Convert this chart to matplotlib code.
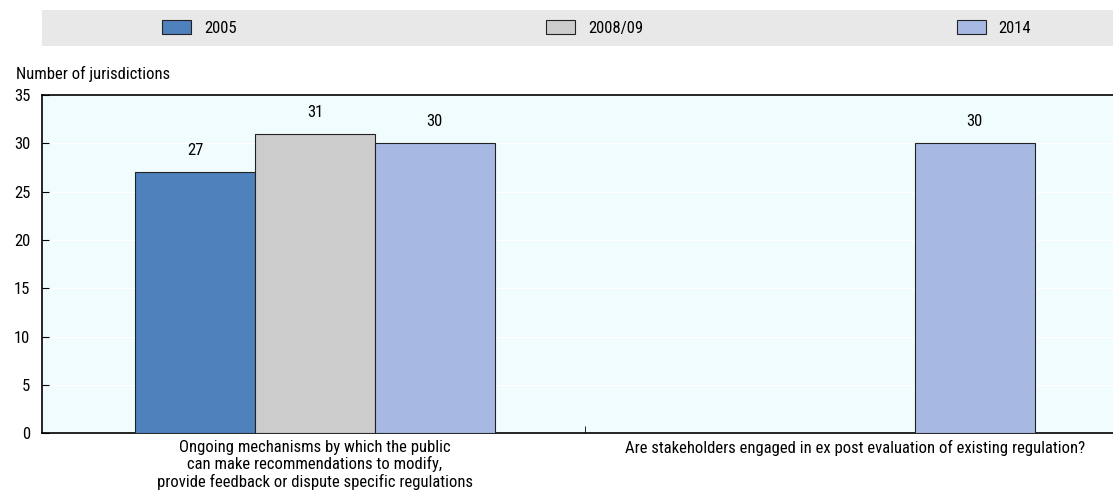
import numpy as np
import matplotlib
matplotlib.use("Agg")
import matplotlib.pyplot as plt
from matplotlib.patches import Patch
from matplotlib.legend import Legend

plt.rcParams["font.family"] = ["Roboto Condensed", "Liberation Sans", "DejaVu Sans"]
plt.rcParams["font.size"] = 12

# Data
categories = [
    "Ongoing mechanisms by which the public\ncan make recommendations to modify,\nprovide feedback or dispute specific regulations",
    "Are stakeholders engaged in ex post evaluation of existing regulation?",
]
series = ["2005", "2008/09", "2014"]
values_2005 = [27, np.nan]
values_2008 = [31, np.nan]
values_2014 = [30, 30]
colors = ["#4F81BD", "#CCCCCC", "#A7B9E3"]

fig = plt.figure(figsize=(11.13, 5.03), dpi=100)
ax = fig.add_axes([0.0377, 0.139, 0.9623, 0.672])
ax.set_facecolor("#F0FCFE")

x = np.arange(len(categories))
width = 0.222
all_vals = [values_2005, values_2008, values_2014]
for i, (name, vals, col) in enumerate(zip(series, all_vals, colors)):
    pos = x + (i - 1) * width
    ax.bar(pos, vals, width=width, color=col, edgecolor="#222222",
           linewidth=0.8, label=name, zorder=3)
    for px, v in zip(pos, vals):
        if not np.isnan(v):
            ax.annotate(f"{v:.0f}", (px, v), xytext=(0, 10), textcoords="offset points",
                        ha="center", va="bottom")

ax.set_ylim(0, 35)
ax.set_yticks(range(0, 36, 5))
ax.set_xlim(-0.5056, 1.478)
ax.yaxis.grid(True, color="white", linewidth=1, zorder=0)
ax.set_axisbelow(True)

ax.set_xticks(x)
ax.set_xticklabels(categories, linespacing=1.1)
ax.tick_params(axis="x", length=0, pad=5)
ax.set_xticks([0.5], minor=True)
ax.tick_params(axis="x", which="minor", direction="in", length=5, color="black")
ax.tick_params(axis="y", direction="in", length=5, pad=8.5)

ax.spines["right"].set_visible(False)
for side in ["top", "bottom", "left"]:
    ax.spines[side].set_color("black")
    ax.spines[side].set_linewidth(1.2)

fig.text(0.0144, 0.853, "Number of jurisdictions", ha="left", va="center")

# Legend band
band = fig.add_axes([0.0377, 0.9085, 0.9623, 0.0716])
band.set_facecolor("#E8E8E8")
band.set_xticks([])
band.set_yticks([])
for s in band.spines.values():
    s.set_visible(False)
legend_x = [0.112, 0.471, 0.854]
for name, col, lx in zip(series, colors, legend_x):
    handle = Patch(facecolor=col, edgecolor="#222222", linewidth=0.8)
    lg = Legend(band, [handle], [name], loc="center left", bbox_to_anchor=(lx, 0.5),
                frameon=False, handlelength=1.74, handleheight=0.9, handletextpad=0.78,
                borderpad=0, borderaxespad=0)
    band.add_artist(lg)

fig.savefig("out.png", dpi=100)
